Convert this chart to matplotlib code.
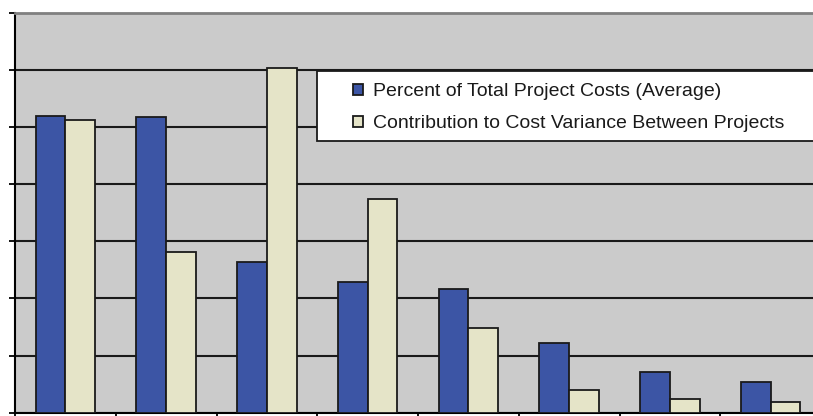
import numpy as np
import matplotlib.pyplot as plt
from matplotlib.patches import Rectangle

plt.rcParams['font.family'] = ['Liberation Sans', 'DejaVu Sans']

# values (grid step = 5)
categories = ['C1', 'C2', 'C3', 'C4', 'C5', 'C6', 'C7', 'C8']
pct_total = [26.0, 25.9, 13.2, 11.4, 10.8, 6.1, 3.6, 2.7]
contrib_var = [25.6, 14.1, 30.2, 18.7, 7.4, 2.0, 1.2, 0.9]
labels = ['Percent of Total Project Costs (Average)',
          'Contribution to Cost Variance Between Projects']

blue = '#3c55a5'
cream = '#e5e4c8'
edge = '#1a1a1a'

fig = plt.figure(figsize=(8.13, 4.16), dpi=100)
fig.patch.set_facecolor('white')
# axes run slightly past the right edge of the figure, like the cropped original
ax = fig.add_axes([15 / 813, 3.3 / 416, 806 / 813, 400 / 416])
ax.set_facecolor('#cbcbcb')

x = np.arange(len(categories)) + 0.5
w = 0.295
ax.bar(x - w / 2, pct_total, w, color=blue, edgecolor=edge, linewidth=1.3,
       label=labels[0], zorder=3)
ax.bar(x + w / 2, contrib_var, w, color=cream, edgecolor=edge, linewidth=1.3,
       label=labels[1], zorder=3)

ax.set_xlim(0, len(categories))
ax.set_ylim(0, 35)
ax.set_yticks(np.arange(0, 36, 5))
ax.set_xticks(np.arange(0, len(categories) + 1))
ax.set_xticklabels([])
ax.set_yticklabels([])
ax.tick_params(axis='both', direction='out', length=4.5, width=1.3, color='black')
ax.yaxis.grid(True, color='#1a1a1a', linewidth=1.5, zorder=1)
ax.set_axisbelow(True)

for s in ['left', 'bottom']:
    ax.spines[s].set_color('black')
    ax.spines[s].set_linewidth(1.5)
ax.spines['top'].set_color('#808080')
ax.spines['top'].set_linewidth(2)
ax.spines['right'].set_visible(False)

# legend frame
ax.add_patch(Rectangle((0.3743, 0.679), 0.63, 0.175, transform=ax.transAxes,
                       facecolor='white', edgecolor='#1a1a1a', linewidth=1.3,
                       zorder=5, clip_on=False))
leg = ax.legend(loc='upper left', bbox_to_anchor=(0.419, 0.823), frameon=False,
                fontsize=14, borderpad=0, borderaxespad=0,
                handlelength=0.52, handleheight=0.52, handletextpad=0.5,
                labelspacing=0.77)
leg.set_zorder(6)
for t in leg.get_texts():
    t.set_color('#1a1a1a')

fig.savefig('out.png', dpi=100)
